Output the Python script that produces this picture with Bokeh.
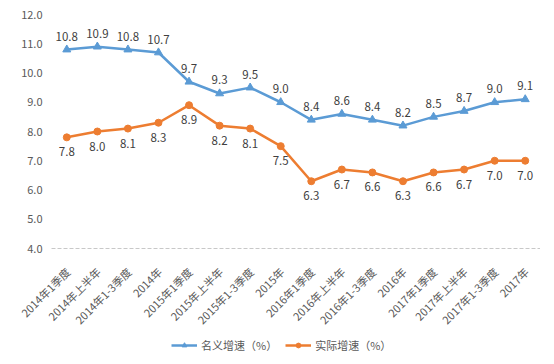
import math
from bokeh.plotting import figure
from bokeh.models import ColumnDataSource, Legend, LegendItem, Range1d
from bokeh.core.properties import value
from bokeh.embed import file_html
from bokeh.resources import INLINE

categories = ["2014年1季度", "2014年上半年", "2014年1-3季度", "2014年",
              "2015年1季度", "2015年上半年", "2015年1-3季度", "2015年",
              "2016年1季度", "2016年上半年", "2016年1-3季度", "2016年",
              "2017年1季度", "2017年上半年", "2017年1-3季度", "2017年"]
nominal = [10.8, 10.9, 10.8, 10.7, 9.7, 9.3, 9.5, 9.0, 8.4, 8.6, 8.4, 8.2, 8.5, 8.7, 9.0, 9.1]
real = [7.8, 8.0, 8.1, 8.3, 8.9, 8.2, 8.1, 7.5, 6.3, 6.7, 6.6, 6.3, 6.6, 6.7, 7.0, 7.0]
y_ticks = [4, 5, 6, 7, 8, 9, 10, 11, 12]
series_names = ["名义增速（%）", "实际增速（%）"]

FONT = "Noto Sans CJK SC"
BLUE = "#5B9BD5"
ORANGE = "#ED7D31"

# layout (pixels)
PLOT_LEFT = 51          # left edge of the plotting area on the canvas
PLOT_TOP = 14           # top of the plotting area (12.0 line) on the canvas
PLOT_W = 489            # width of the plotting area
FRAME_W = 540
FRAME_H = 356
PX_PER_Y = 29.25
n = len(categories)
slot = PLOT_W / n
x_start = -0.5 - PLOT_LEFT / slot
x_end = x_start + FRAME_W / slot
y_max = max(y_ticks)
y_min = min(y_ticks)
y_end = y_max + PLOT_TOP / PX_PER_Y
y_start = y_end - FRAME_H / PX_PER_Y

xs = list(range(n))
src = ColumnDataSource(dict(
    x=xs, cat=categories, nom=nominal, real=real,
    base=[y_min] * n,
    nom_lbl=[f"{v:.1f}" for v in nominal],
    real_lbl=[f"{v:.1f}" for v in real],
))
tick_src = ColumnDataSource(dict(
    y=y_ticks, x=[-0.5] * len(y_ticks), lbl=[f"{t:.1f}" for t in y_ticks]))

p = figure(x_range=Range1d(x_start, x_end), y_range=Range1d(y_start, y_end),
           frame_width=FRAME_W, frame_height=FRAME_H,
           output_backend="svg", toolbar_location=None,
           min_border_left=0, min_border_top=0, min_border_right=0, min_border_bottom=2)
p.outline_line_color = None
p.xgrid.grid_line_color = None
p.ygrid.grid_line_color = None
p.xaxis.visible = False
p.yaxis.visible = False

# dashed baseline at 4.0
p.segment(x0=-0.5, y0=y_min, x1=n - 0.5, y1=y_min, line_color="#C8C8C8",
          line_dash="4 2", line_width=1)

# y tick labels
p.text("x", "y", text="lbl", source=tick_src, text_font=value(FONT), text_font_size="11px",
       text_color="#595959", text_align="right", text_baseline="middle", x_offset=-9)

r1 = p.line("x", "nom", source=src, line_color=BLUE, line_width=2.5)
m1 = p.scatter("x", "nom", source=src, marker="triangle", size=8, fill_color=BLUE, line_color=BLUE)
r2 = p.line("x", "real", source=src, line_color=ORANGE, line_width=2.5)
m2 = p.scatter("x", "real", source=src, marker="circle", size=7, fill_color=ORANGE, line_color=ORANGE)

p.text("x", "nom", text="nom_lbl", source=src, text_font=value(FONT), text_font_size="11.5px",
       text_color="#404040", text_align="center", text_baseline="bottom", y_offset=-9)
p.text("x", "real", text="real_lbl", source=src, text_font=value(FONT), text_font_size="11.5px",
       text_color="#404040", text_align="center", text_baseline="top", y_offset=10)

# category labels under the baseline, rotated 45°
p.text("x", "base", text="cat", source=src, text_font=value(FONT), text_font_size="11px",
       text_color="#595959", text_align="right", text_baseline="middle",
       angle=math.pi / 4, x_offset=1, y_offset=21)

legend = Legend(items=[LegendItem(label=series_names[0], renderers=[r1, m1]),
                       LegendItem(label=series_names[1], renderers=[r2, m2])],
                orientation="horizontal", location=(PLOT_LEFT + 120, 3),
                label_text_font=FONT, label_text_font_size="11px", label_text_color="#595959",
                label_height=14, glyph_height=12,
                border_line_color=None, background_fill_alpha=0,
                glyph_width=26, spacing=8, padding=1, margin=0,
                label_standoff=4)
p.add_layout(legend)

open("out.html", "w").write(file_html(p, INLINE))
